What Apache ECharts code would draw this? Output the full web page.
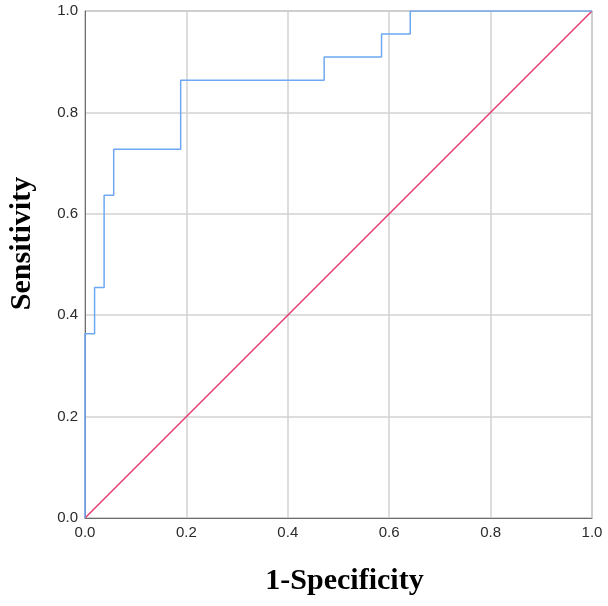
<!DOCTYPE html>
<html>
<head>
<meta charset="utf-8">
<script src="https://cdn.jsdelivr.net/npm/echarts@6/dist/echarts.min.js"></script>
<style>html,body{margin:0;padding:0;background:#fff;}#c{width:608px;height:606px;}</style>
</head>
<body>
<div id="c"></div>
<script>
// ROC curve points (1-Specificity, Sensitivity)
const fpr = [0, 0, 0.0189, 0.0189, 0.0377, 0.0377, 0.0566, 0.0566, 0.1887, 0.1887, 0.4717, 0.4717, 0.5849, 0.5849, 0.6415, 0.6415, 1.0];
const tpr = [0, 0.3636, 0.3636, 0.4545, 0.4545, 0.6364, 0.6364, 0.7273, 0.7273, 0.8636, 0.8636, 0.9091, 0.9091, 0.9545, 0.9545, 1.0, 1.0];
const refX = [0, 1];
const refY = [0, 1];
const tickLabels = ['0.0', '0.2', '0.4', '0.6', '0.8', '1.0'];

const chart = echarts.init(document.getElementById('c'));
const fmt = v => tickLabels[Math.round(v / 0.2)];
chart.setOption({
  animation: false,
  backgroundColor: '#fff',
  grid: { left: 85, right: 16, top: 11, bottom: 88, show: true, borderColor: '#8a8a8a', borderWidth: 1, containLabel: false, outerBoundsMode: 'none' },
  xAxis: {
    type: 'value', min: 0, max: 1, interval: 0.2,
    name: '1-Specificity', nameLocation: 'middle', nameGap: 48,
    nameTextStyle: { fontFamily: 'Liberation Serif', fontWeight: 'bold', fontSize: 30, color: '#000', padding: [0, 0, 0, 12] },
    axisLine: { show: true, lineStyle: { color: '#6e6e6e' } },
    axisTick: { show: false },
    axisLabel: { formatter: fmt, fontFamily: 'Liberation Sans', fontSize: 15, color: '#2a2a2a', margin: 7 },
    splitLine: { show: true, lineStyle: { color: '#d2d2d2', width: 1.5 } }
  },
  yAxis: {
    type: 'value', min: 0, max: 1, interval: 0.2,
    name: 'Sensitivity', nameLocation: 'middle', nameGap: 48,
    nameTextStyle: { fontFamily: 'Liberation Serif', fontWeight: 'bold', fontSize: 30, color: '#000', padding: [0, 0, 0, 42] },
    axisLine: { show: true, lineStyle: { color: '#6e6e6e' } },
    axisTick: { show: false },
    axisLabel: { formatter: fmt, fontFamily: 'Liberation Sans', fontSize: 15, color: '#2a2a2a', margin: 7 },
    splitLine: { show: true, lineStyle: { color: '#d2d2d2', width: 1.5 } }
  },
  series: [
    {
      type: 'line', data: refX.map((x, i) => [x, refY[i]]),
      symbol: 'none', lineStyle: { color: '#e4386a', width: 1.5 }, z: 3
    },
    {
      type: 'line', data: fpr.map((x, i) => [x, tpr[i]]),
      symbol: 'none', lineStyle: { color: '#6ea8f2', width: 1.5 }, z: 4
    }
  ]
});
</script>
</body>
</html>
